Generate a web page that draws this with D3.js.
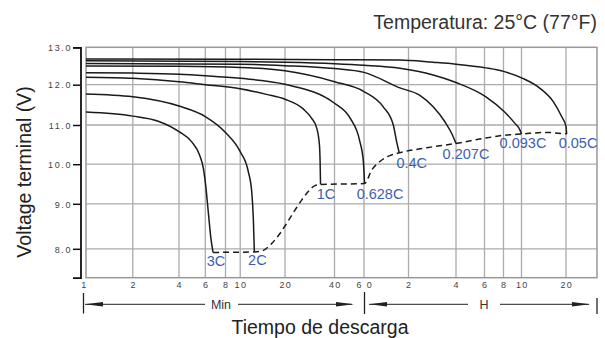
<!DOCTYPE html>
<html><head><meta charset="utf-8">
<script src="https://cdn.jsdelivr.net/npm/d3@7"></script>
<style>body{margin:0;background:#fff} svg{display:block}</style>
</head><body>
<svg id="chart" width="605" height="338"></svg>
<script>
// ---------- data ----------
const xTickValues = [1,2,4,6,8,10,20,40,60,120,240,360,480,600,1200]; // minutes
const xTickLabels = ["1","2","4","6","8","10","20","40","6 0","2","4","6","8","10","20"];
const yTickValues = [8,9,10,11,12,13];
const yTickLabels = ["8.0","9.0","10.0","11.0","12.0","13.0"];
const rateLabels = ["3C","2C","1C","0.628C","0.4C","0.207C","0.093C","0.05C"];
const titleText = "Temperatura: 25°C (77°F)";
const yTitle = "Voltage terminal (V)";
const xTitle = "Tiempo de descarga";
const unitMin = "Min";
const unitH = "H";

// [time in minutes, voltage]
const curve3C = [[1,11.32],[2,11.22],[2.9,11.10],[4,10.83],[4.87,10.57],[5.5,10.23],[5.82,9.9],[6.03,9.47],[6.26,8.82],[6.5,8.23],[6.7,7.92]];
const curve2C = [[1,11.77],[2,11.70],[4,11.47],[6,11.21],[8,10.81],[10,10.32],[11.34,9.81],[11.95,9.31],[12.25,8.68],[12.45,7.93]];
const curve1C = [[1,12.20],[2,12.17],[4,12.08],[6,12.0],[10,11.9],[15,11.76],[20,11.64],[25.8,11.40],[29,11.17],[31.2,10.92],[32.4,10.49],[32.7,10.06],[32.9,9.49]];
const curve0628C = [[1,12.32],[2,12.31],[4,12.28],[6,12.24],[10,12.17],[20,12.01],[40,11.54],[49.6,11.17],[56.6,10.59],[59.5,10.06],[60.5,9.51]];
const curve04C = [[1,12.50],[4,12.49],[10,12.46],[20,12.37],[40,12.08],[60,11.83],[81,11.45],[94.7,11.0],[99.8,10.57],[103.9,10.29]];
const curve0207C = [[1,12.57],[10,12.55],[20,12.51],[40,12.43],[60,12.33],[105,11.92],[141,11.74],[172,11.45],[204,11.08],[225,10.79],[240,10.53]];
const curve0093C = [[1,12.64],[10,12.62],[20,12.60],[40,12.56],[60,12.52],[105,12.44],[172,12.26],[240,12.06],[368,11.70],[485,11.33],[553,11.04],[589,10.87],[600,10.77]];
const curve005C = [[1,12.69],[10,12.68],[40,12.67],[105,12.66],[172,12.60],[240,12.55],[368,12.45],[485,12.35],[611,12.17],[800,11.91],[984,11.58],[1121,11.21],[1200,10.96],[1212,10.77]];
// final-voltage (end of discharge) dashed line
const endVoltageLine = [[6.7,7.92],[12.45,7.93],[13.95,7.95],[16.3,8.12],[18.5,8.34],[20.5,8.57],[23,8.86],[25.3,9.10],[27.7,9.31],[30.4,9.46],[32.9,9.49],[60.5,9.51],[67.6,9.85],[76.9,10.07],[89.9,10.22],[103.9,10.29],[156.5,10.42],[240,10.53],[337,10.64],[499,10.745],[600,10.77],[863,10.81],[1212,10.77]];

const curves = [curve3C,curve2C,curve1C,curve0628C,curve04C,curve0207C,curve0093C,curve005C];

// ---------- layout ----------
const plot = {left:86, right:597, bottom:277.7};
const xRange = [86,132.8,179,205.3,225.5,240.2,285,334.5,364,408.5,456,484.5,503.5,521.5,566];
const yDomain = [7.36,8,9,10,11,12,13];
const yRange = [277.7,248.8,203.8,164.2,125,84.7,47.3];
const labelOffsets = [[3,13.5],[3,13.5],[5.5,15],[15.5,15.5],[12.5,15],[10,16],[1.5,14],[11.4,14]];
const FONT = "'Liberation Sans', Arial, sans-serif";
const blue = "#3d5fae";

const svg = d3.select("#chart");
const x = d3.scaleLog().domain(xTickValues).range(xRange);
const y = d3.scaleLinear().domain(yDomain).range(yRange);
const plotTop = y(13);

// grid
const grid = svg.append("g");
grid.selectAll("line.v").data(xTickValues.slice(1)).join("line")
  .attr("x1", d => x(d)).attr("x2", d => x(d)).attr("y1", plotTop).attr("y2", plot.bottom)
  .attr("stroke", "#ababab").attr("stroke-width", 1.3);
grid.selectAll("line.h").data(yTickValues.filter(v => v < 13)).join("line")
  .attr("x1", plot.left).attr("x2", plot.right).attr("y1", d => y(d)).attr("y2", d => y(d))
  .attr("stroke", "#ababab").attr("stroke-width", 1.3);
grid.append("rect").attr("x", plot.left).attr("y", plotTop)
  .attr("width", plot.right - plot.left).attr("height", plot.bottom - plotTop)
  .attr("fill", "none").attr("stroke", "#999").attr("stroke-width", 1.5);

// y axis
const yAxis = svg.append("g").attr("transform", "translate(80.5,0)")
  .call(d3.axisLeft(y).tickValues(yTickValues).tickFormat((d,i) => yTickLabels[i])
        .tickSize(7.5).tickSizeOuter(7.5).tickPadding(1));
yAxis.select(".domain").attr("stroke", "#111").attr("stroke-width", 1.8);
yAxis.selectAll(".tick line").attr("stroke", "#111").attr("stroke-width", 1.5);
yAxis.selectAll(".tick text").attr("font-family", FONT).attr("font-size", 9)
  .attr("letter-spacing", 1.6).attr("fill", "#444").attr("dy", "0.36em");

// x tick labels
svg.append("g").selectAll("text").data(xTickValues).join("text")
  .attr("x", (d,i) => i === 0 ? x(d) - 1.5 : x(d) + 0.8)
  .attr("y", 288)
  .attr("text-anchor", "middle")
  .attr("font-family", FONT).attr("font-size", 9).attr("letter-spacing", 1.4)
  .attr("fill", "#444")
  .text((d,i) => xTickLabels[i]);

// curves
const line = d3.line().x(d => x(d[0])).y(d => y(d[1])).curve(d3.curveMonotoneX);
svg.append("g").selectAll("path").data(curves).join("path")
  .attr("d", line).attr("fill", "none").attr("stroke", "#1a1a1a").attr("stroke-width", 1.5);

svg.append("path").datum(endVoltageLine).attr("d", line)
  .attr("fill", "none").attr("stroke", "#1a1a1a").attr("stroke-width", 1.5)
  .attr("stroke-dasharray", "6,4");

// rate labels
svg.append("g").selectAll("text").data(curves).join("text")
  .attr("x", (c,i) => x(c[c.length-1][0]) + labelOffsets[i][0])
  .attr("y", (c,i) => y(c[c.length-1][1]) + labelOffsets[i][1])
  .attr("text-anchor", "middle")
  .attr("font-family", FONT).attr("font-size", 14.5).attr("fill", blue)
  .text((c,i) => rateLabels[i]);

// bracket arrows Min / H
const ay = 304.3;
const ag = svg.append("g").attr("stroke", "#222").attr("fill", "#222");
function arrowHead(tipX, dir) {
  const len = 18, hw = 2.2;
  ag.append("path").attr("stroke", "none")
    .attr("d", `M${tipX},${ay} L${tipX - dir*len},${ay-hw} L${tipX - dir*len},${ay+hw} Z`);
}
function seg(x1, x2) {
  ag.append("line").attr("x1", x1).attr("x2", x2).attr("y1", ay).attr("y2", ay).attr("stroke-width", 1);
}
function bar(xx, y1, y2) {
  ag.append("line").attr("x1", xx).attr("x2", xx).attr("y1", y1).attr("y2", y2).attr("stroke-width", 1.3);
}
bar(83.5, 293, 313.5);
bar(x(60) + 0.5, 292, 314);
bar(597, 298, 314);
arrowHead(85, -1); seg(85, 205);
seg(238, 352); arrowHead(354, 1);
arrowHead(369, -1); seg(369, 468);
seg(500, 589); arrowHead(590, 1);
svg.append("text").attr("x", 221).attr("y", 308.5).attr("text-anchor", "middle")
  .attr("font-family", FONT).attr("font-size", 12.5).attr("fill", "#333").text(unitMin);
svg.append("text").attr("x", 484).attr("y", 308.5).attr("text-anchor", "middle")
  .attr("font-family", FONT).attr("font-size", 12.5).attr("fill", "#333").text(unitH);

// titles
svg.append("text").attr("x", 597).attr("y", 28.5).attr("text-anchor", "end")
  .attr("font-family", FONT).attr("font-size", 19.5).attr("fill", "#333").text(titleText);
svg.append("text").attr("transform", "translate(31,172) rotate(-90)").attr("text-anchor", "middle")
  .attr("font-family", FONT).attr("font-size", 19.5).attr("fill", "#222").text(yTitle);
svg.append("text").attr("x", 320).attr("y", 333.5).attr("text-anchor", "middle")
  .attr("font-family", FONT).attr("font-size", 19.5).attr("fill", "#222").text(xTitle);
</script>
</body></html>
